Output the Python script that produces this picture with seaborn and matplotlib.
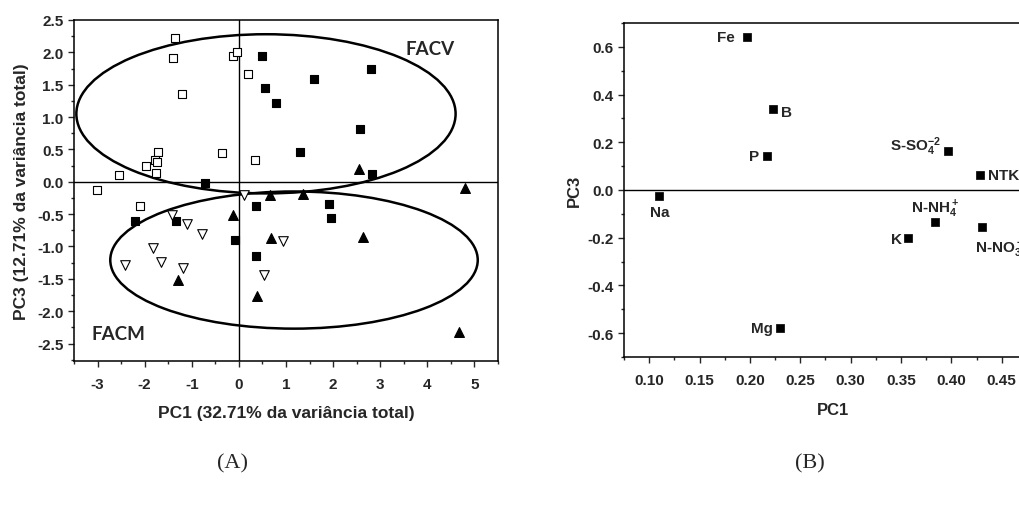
import numpy as np
import pandas as pd
import matplotlib
matplotlib.use("Agg")
import matplotlib.pyplot as plt
from matplotlib.patches import Ellipse
from matplotlib.ticker import MultipleLocator, FormatStrFormatter
import seaborn as sns

# ---- Scores on PC1 / PC3, by sample group ----
open_sq_pc1 = [-1.36, -1.39, -1.21, -0.12, -0.03, 0.20, -0.35, 0.34, -1.71, -1.78,
               -1.74, -1.98, -1.77, -2.54, -3.02, -2.10]
open_sq_pc3 = [2.22, 1.91, 1.36, 1.95, 2.00, 1.67, 0.45, 0.33, 0.46, 0.33,
               0.30, 0.24, 0.13, 0.10, -0.13, -0.38]
filled_sq_pc1 = [-0.71, 0.49, 2.80, 1.60, 0.56, 0.79, 2.57, 1.30, 2.82, -2.20,
                 -1.34, -0.08, 0.37, 1.91, 1.96, 0.37]
filled_sq_pc3 = [-0.02, 1.94, 1.74, 1.59, 1.45, 1.22, 0.82, 0.46, 0.12, -0.60,
                 -0.60, -0.90, -0.38, -0.34, -0.56, -1.15]
filled_tri_pc1 = [2.55, 4.80, 0.67, 1.36, -0.13, 0.68, 2.63, 0.39, 4.68, -1.29]
filled_tri_pc3 = [0.19, -0.10, -0.20, -0.19, -0.51, -0.87, -0.86, -1.77, -2.32, -1.52]
open_tri_pc1 = [-2.42, -1.83, -1.65, -1.43, -1.10, -0.78, -1.19, 0.11, 0.94, 0.54]
open_tri_pc3 = [-1.29, -1.02, -1.24, -0.52, -0.65, -0.80, -1.34, -0.21, -0.92, -1.44]

# Group ellipses: (centre PC1, centre PC3, full width, full height)
facv_ellipse = (0.575, 1.05, 8.05, 2.46)
facm_ellipse = (1.17, -1.21, 7.80, 2.12)

# ---- Loadings on PC1 / PC3 ----
variables = ["Fe", "B", "P", "Na", "S-SO$_4^{-2}$", "NTK", "N-NH$_4^+$", "K",
             "N-NO$_3^-$", "Mg"]
load_pc1 = [0.197, 0.223, 0.217, 0.110, 0.397, 0.428, 0.384, 0.357, 0.430, 0.230]
load_pc3 = [0.643, 0.339, 0.144, -0.024, 0.164, 0.064, -0.135, -0.200, -0.154, -0.580]

# label placement for the loadings: (dx, dy in points, ha)
label_pos = {
    "Fe": (-8.5, 0, "right"),
    "B": (6, -2, "left"),
    "P": (-6, 0, "right"),
    "Na": (0, -12, "center"),
    "S-SO$_4^{-2}$": (-5, 4, "right"),
    "NTK": (6, 0, "left"),
    "N-NH$_4^+$": (0, 10, "center"),
    "K": (-4.5, -1, "right"),
    "N-NO$_3^-$": (-4.5, -15, "left"),
    "Mg": (-5, 0, "right"),
}

sns.set_style("ticks")
plt.rcParams["font.family"] = ["Liberation Sans", "DejaVu Sans"]
plt.rcParams["font.weight"] = "bold"
plt.rcParams["axes.labelweight"] = "bold"
plt.rcParams["axes.unicode_minus"] = False
plt.rcParams["mathtext.default"] = "regular"
plt.rcParams["axes.linewidth"] = 1.1
plt.rcParams["xtick.direction"] = "out"
plt.rcParams["ytick.direction"] = "out"

fig = plt.figure(figsize=(10.2, 5.06), dpi=100)
axA = fig.add_axes([74 / 1020, 1 - 362 / 506, 424 / 1020, 341 / 506])
axB = fig.add_axes([624 / 1020, 1 - 358 / 506, 418 / 1020, 334 / 506])

# ---------------- Panel A: scores ----------------
groups = [
    ("open_sq", open_sq_pc1, open_sq_pc3, "s", "white", 30),
    ("filled_sq", filled_sq_pc1, filled_sq_pc3, "s", "black", 34),
    ("filled_tri", filled_tri_pc1, filled_tri_pc3, "^", "black", 50),
    ("open_tri", open_tri_pc1, open_tri_pc3, "v", "white", 48),
]
scores = pd.concat(
    [pd.DataFrame({"PC1": x, "PC3": y, "grupo": g}) for g, x, y, *_ in groups],
    ignore_index=True,
)

axA.axhline(0, color="black", lw=1.0, zorder=1)
axA.axvline(0, color="black", lw=1.0, zorder=1)
for g, _, _, mk, fc, size in groups:
    sns.scatterplot(data=scores[scores["grupo"] == g], x="PC1", y="PC3", ax=axA,
                    marker=mk, s=size, facecolor=fc, edgecolor="black",
                    linewidth=0.8, zorder=3, legend=False)

for cx, cy, w, h in (facv_ellipse, facm_ellipse):
    axA.add_patch(Ellipse((cx, cy), w, h, fill=False, edgecolor="black",
                          lw=1.8, zorder=2))

axA.text(4.05, 2.06, "FACV", family="Lato", weight="bold", fontsize=13.5,
         ha="center", va="center")
axA.text(-2.55, -2.35, "FACM", family="Lato", weight="bold", fontsize=13.5,
         ha="center", va="center")

axA.set_xlim(-3.5, 5.5)
axA.set_ylim(-2.77, 2.5)
axA.xaxis.set_major_locator(MultipleLocator(1))
axA.xaxis.set_minor_locator(MultipleLocator(0.5))
axA.yaxis.set_major_locator(MultipleLocator(0.5))
axA.yaxis.set_minor_locator(MultipleLocator(0.25))
axA.yaxis.set_major_formatter(FormatStrFormatter("%.1f"))
axA.set_xlabel("PC1 (32.71% da variância total)", fontsize=12.5, labelpad=10)
axA.set_ylabel("PC3 (12.71% da variância total)", fontsize=12.5, labelpad=6)

# ---------------- Panel B: loadings ----------------
loadings = pd.DataFrame({"variavel": variables, "PC1": load_pc1, "PC3": load_pc3})
axB.axhline(0, color="black", lw=1.0, zorder=1)
sns.scatterplot(data=loadings, x="PC1", y="PC3", ax=axB, marker="s", s=32,
                color="black", edgecolor="black", linewidth=0.5, zorder=3,
                legend=False)
for name, x, y in zip(variables, load_pc1, load_pc3):
    dx, dy, ha = label_pos[name]
    axB.annotate(name, (x, y), xytext=(dx, dy), textcoords="offset points",
                 ha=ha, va="center", fontsize=11, fontweight="bold")

axB.set_xlim(0.075, 0.49)
axB.set_ylim(-0.7, 0.7)
axB.xaxis.set_major_locator(MultipleLocator(0.05))
axB.xaxis.set_minor_locator(MultipleLocator(0.025))
axB.yaxis.set_major_locator(MultipleLocator(0.2))
axB.yaxis.set_minor_locator(MultipleLocator(0.1))
axB.xaxis.set_major_formatter(FormatStrFormatter("%.2f"))
axB.yaxis.set_major_formatter(FormatStrFormatter("%.1f"))
axB.set_xlabel("PC1", fontsize=12, labelpad=11)
axB.set_ylabel("PC3", fontsize=12, labelpad=4)

for ax in (axA, axB):
    ax.tick_params(which="major", length=4.5, width=1.0, labelsize=11, pad=3)
    ax.tick_params(which="minor", length=2.5, width=1.0)
    ax.tick_params(axis="x", which="major", pad=7)
    for lab in ax.get_xticklabels() + ax.get_yticklabels():
        lab.set_fontweight("bold")
    for sp in ax.spines.values():
        sp.set_visible(True)
        sp.set_color("black")

fig.text(233 / 1020, 1 - 464 / 506, "(A)", family="Liberation Serif",
         fontweight="normal", fontsize=16, ha="center", va="center")
fig.text(810 / 1020, 1 - 464 / 506, "(B)", family="Liberation Serif",
         fontweight="normal", fontsize=16, ha="center", va="center")

fig.savefig("out.png", dpi=100, facecolor="white")
